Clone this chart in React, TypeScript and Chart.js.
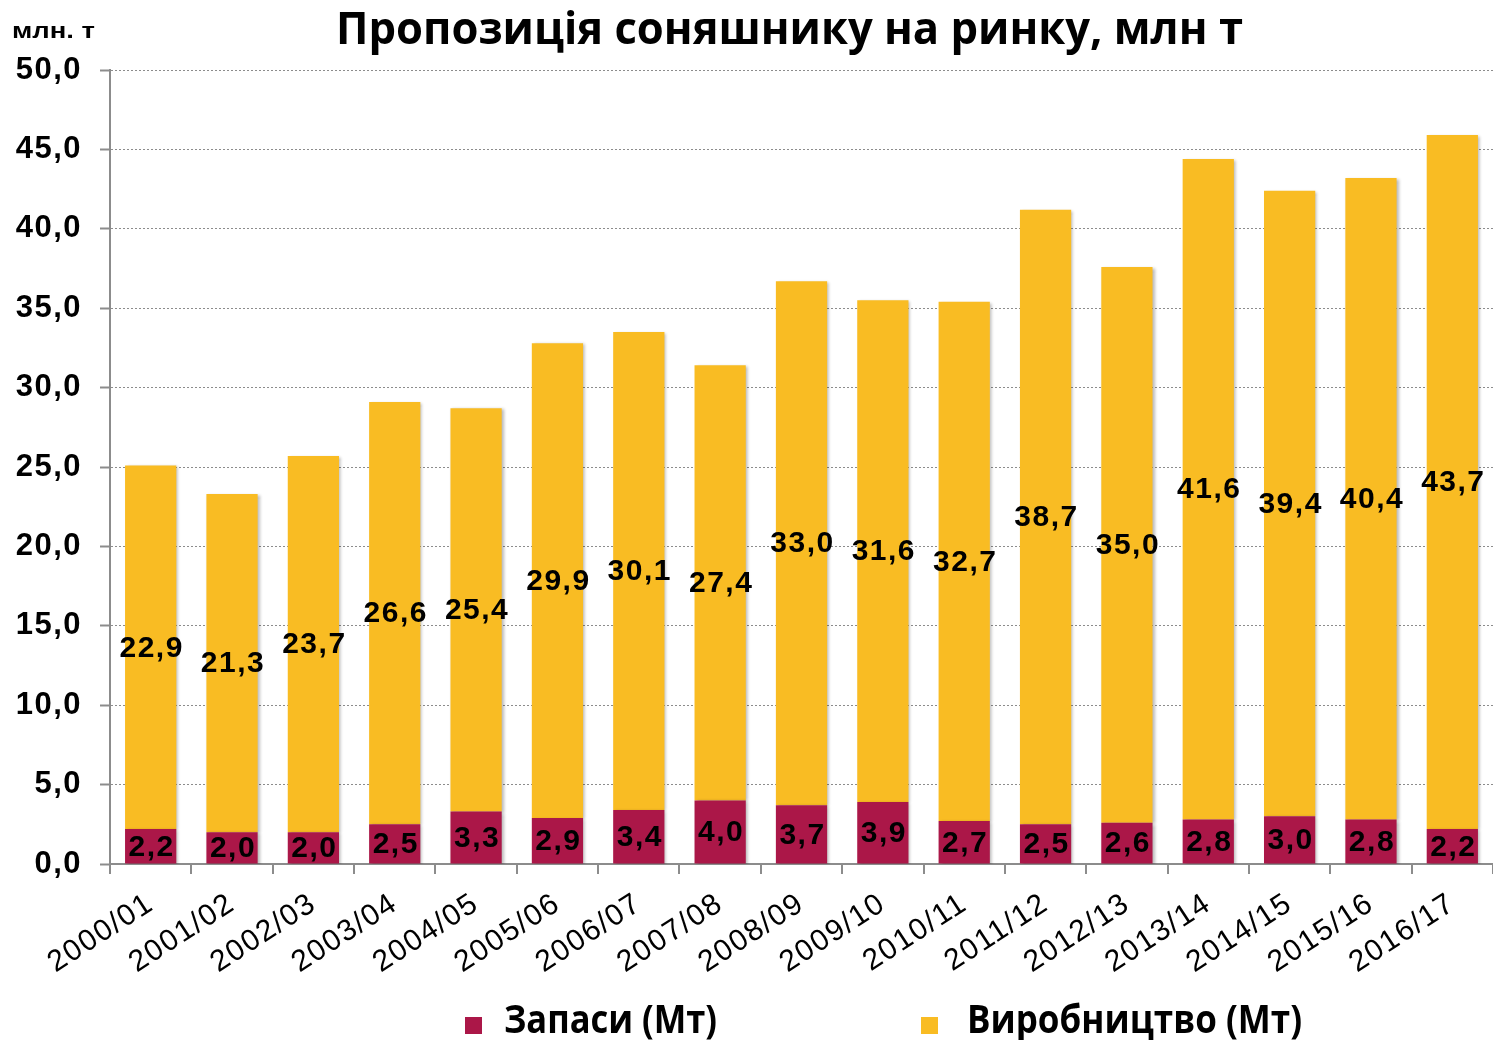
import React, { useEffect, useRef } from "react";
import { Chart, registerables } from "chart.js";

Chart.register(...registerables);

const categories = [
  "2000/01", "2001/02", "2002/03", "2003/04", "2004/05", "2005/06", "2006/07", "2007/08", "2008/09",
  "2009/10", "2010/11", "2011/12", "2012/13", "2013/14", "2014/15", "2015/16", "2016/17",
];
const stocks = [2.2, 2.0, 2.0, 2.5, 3.3, 2.9, 3.4, 4.0, 3.7, 3.9, 2.7, 2.5, 2.6, 2.8, 3.0, 2.8, 2.2];
const production = [22.9, 21.3, 23.7, 26.6, 25.4, 29.9, 30.1, 27.4, 33.0, 31.6, 32.7, 38.7, 35.0, 41.6, 39.4, 40.4, 43.7];
const seriesNames = ["Запаси (Мт)", "Виробництво (Мт)"];
const titleText = "Пропозиція соняшнику на ринку, млн т";
const unitText = "млн. т";
const yMin = 0;
const yMax = 50;
const yStep = 5;

const COLORS = ["#AB1748", "#F9BC23"];
const ARIAL = "'Liberation Sans', Arial, sans-serif";
const CALIBRI = "'Open Sans', 'Noto Sans', sans-serif";

const fmt = (v: number) => v.toFixed(1).replace(".", ",");

function drawFitted(ctx: CanvasRenderingContext2D, text: string, font: string, left: number, baseline: number, width: number) {
  ctx.save();
  ctx.font = font;
  const w = ctx.measureText(text).width;
  ctx.translate(left, baseline);
  ctx.scale(width / w, 1);
  ctx.textAlign = "left";
  ctx.textBaseline = "alphabetic";
  ctx.fillStyle = "#000";
  ctx.fillText(text, 0, 0);
  ctx.restore();
}

const decorPlugin = {
  id: "decor",
  beforeDraw(chart: any) {
    const ctx = chart.ctx;
    ctx.letterSpacing = "1.5px";
  },
  beforeDatasetsDraw(chart: any) {
    const ctx = chart.ctx;
    ctx.save();
    ctx.shadowColor = "rgba(0,0,0,0.28)";
    ctx.shadowBlur = 3;
    ctx.shadowOffsetX = 2;
    ctx.shadowOffsetY = 1;
  },
  afterDatasetsDraw(chart: any) {
    const ctx = chart.ctx;
    ctx.restore();
    ctx.save();
    ctx.font = `bold 30px ${ARIAL}`;
    ctx.letterSpacing = "1.5px";
    ctx.fillStyle = "#000";
    ctx.textAlign = "center";
    ctx.textBaseline = "middle";
    chart.data.datasets.forEach((ds: any, di: number) => {
      const meta = chart.getDatasetMeta(di);
      meta.data.forEach((el: any, i: number) => {
        const cy = (el.y + el.base) / 2;
        ctx.fillText(fmt(ds.data[i]), el.x + 1, cy + 1);
      });
    });
    ctx.restore();
  },
  afterDraw(chart: any) {
    const ctx = chart.ctx;
    ctx.save();
    ctx.letterSpacing = "0px";
    drawFitted(ctx, titleText, `bold 44px ${CALIBRI}`, 336, 44, 907);
    drawFitted(ctx, unitText, `bold 22px ${ARIAL}`, 12, 38, 83);
    const items = [
      { left: 465, textLeft: 504, width: 213 },
      { left: 921, textLeft: 967, width: 335 },
    ];
    items.forEach((it, i) => {
      ctx.fillStyle = COLORS[i];
      ctx.fillRect(it.left, 1017, 17, 17);
      drawFitted(ctx, seriesNames[i], `bold 39px ${CALIBRI}`, it.textLeft, 1033, it.width);
    });
    ctx.restore();
  },
};

export default function App() {
  const ref = useRef<HTMLCanvasElement | null>(null);
  useEffect(() => {
    document.body.style.margin = "0";
    const canvas = ref.current!;
    const chart = new Chart(canvas, {
      type: "bar",
      data: {
        labels: categories,
        datasets: [
          { label: seriesNames[0], data: stocks, backgroundColor: COLORS[0], categoryPercentage: 0.63, barPercentage: 1 },
          { label: seriesNames[1], data: production, backgroundColor: COLORS[1], categoryPercentage: 0.63, barPercentage: 1 },
        ],
      },
      options: {
        responsive: false,
        animation: false,
        devicePixelRatio: 1,
        layout: { padding: { top: 70, right: 0, bottom: 0, left: 0 } },
        plugins: { legend: { display: false }, title: { display: false }, tooltip: { enabled: false } },
        scales: {
          x: {
            stacked: true,
            grid: { display: true, drawOnChartArea: false, drawTicks: true, tickLength: 10, color: "#8c8c8c", lineWidth: 2, offset: true },
            border: { display: true, color: "#8c8c8c", width: 2 },
            ticks: {
              autoSkip: false,
              minRotation: 33,
              maxRotation: 33,
              color: "#000",
              padding: 12,
              font: { family: ARIAL, size: 30 },
            },
            afterFit: (s: any) => { s.height = 176; },
          },
          y: {
            stacked: true,
            min: yMin,
            max: yMax,
            grid: { color: "#8c8c8c", lineWidth: 1, tickLength: 10, tickColor: "#8c8c8c", tickWidth: 2, tickBorderDash: [] },
            border: { display: true, color: "#8c8c8c", width: 2, dash: [2, 2] },
            ticks: {
              stepSize: yStep,
              color: "#000",
              padding: 18,
              font: { family: ARIAL, size: 31, weight: "bold" },
              callback: (v: any) => fmt(Number(v)),
            },
            afterFit: (s: any) => { s.width = 110; },
          },
        },
      },
      plugins: [decorPlugin],
    } as any);
    return () => chart.destroy();
  }, []);
  return (
    <div style={{ position: "absolute", left: 0, top: 0, width: 1493, height: 1040, background: "#fff" }}>
      <canvas ref={ref} width={1493} height={1040} style={{ width: 1493, height: 1040, display: "block" }} />
    </div>
  );
}
